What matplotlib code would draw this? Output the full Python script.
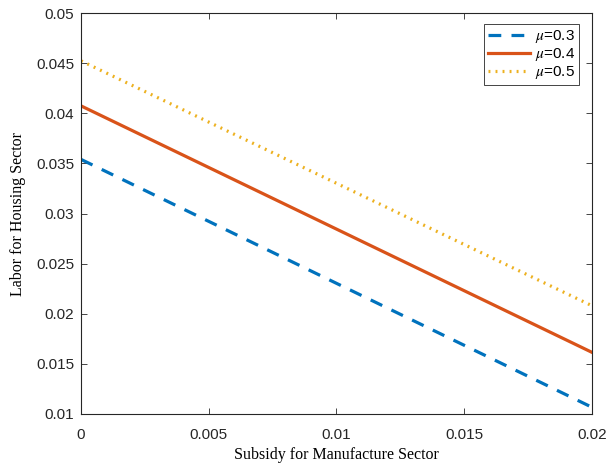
import matplotlib
matplotlib.use("Agg")
import matplotlib.pyplot as plt

# subsidy (x) and labor for housing sector (y), straight lines
subsidy = [0.0, 0.02]
labor_mu03 = [0.0354, 0.01067]
labor_mu04 = [0.04074, 0.01615]
labor_mu05 = [0.04523, 0.0208]
labels = [r"$\mu$=0.3", r"$\mu$=0.4", r"$\mu$=0.5"]

plt.rcParams["font.family"] = "Liberation Sans"
plt.rcParams["mathtext.fontset"] = "stix"

fig = plt.figure(figsize=(6.16, 4.66), dpi=100)
ax = fig.add_axes([0.1315, 0.1116, 0.8295, 0.8604])

ax.plot(subsidy, labor_mu03, "--", color="#0072BD", lw=2.3, dashes=(4, 3.2), label=labels[0])
ax.plot(subsidy, labor_mu04, "-", color="#D95319", lw=2.3, label=labels[1])
ax.plot(subsidy, labor_mu05, ":", color="#EDB120", lw=2.3, dashes=(0.6, 1.6), label=labels[2])

ax.set_xlim(0, 0.02)
ax.set_ylim(0.01, 0.05)
ax.set_xticks([0, 0.005, 0.01, 0.015, 0.02])
ax.set_xticklabels(["0", "0.005", "0.01", "0.015", "0.02"])
ax.set_yticks([0.01, 0.015, 0.02, 0.025, 0.03, 0.035, 0.04, 0.045, 0.05])
ax.set_yticklabels(["0.01", "0.015", "0.02", "0.025", "0.03", "0.035", "0.04", "0.045", "0.05"])
ax.tick_params(direction="in", top=True, right=True, length=4, width=0.6,
               labelsize=11, colors="#262626")
ax.tick_params(axis="x", pad=10)
ax.tick_params(axis="y", pad=5)
for s in ax.spines.values():
    s.set_color("#262626")
    s.set_linewidth(0.8)

ax.set_xlabel("Subsidy for Manufacture Sector", family="Liberation Serif", fontsize=11.5, labelpad=4)
ax.set_ylabel("Labor for Housing Sector", family="Liberation Serif", fontsize=11.5, labelpad=7)

leg = ax.legend(loc="upper right", bbox_to_anchor=(0.9746, 0.9726), borderaxespad=0,
                fontsize=11, fancybox=False, edgecolor="#262626", framealpha=1,
                handlelength=2.8, borderpad=0.25, labelspacing=0.08, handletextpad=0.3)
leg.get_frame().set_linewidth(0.6)

fig.savefig("out.png", dpi=100)
